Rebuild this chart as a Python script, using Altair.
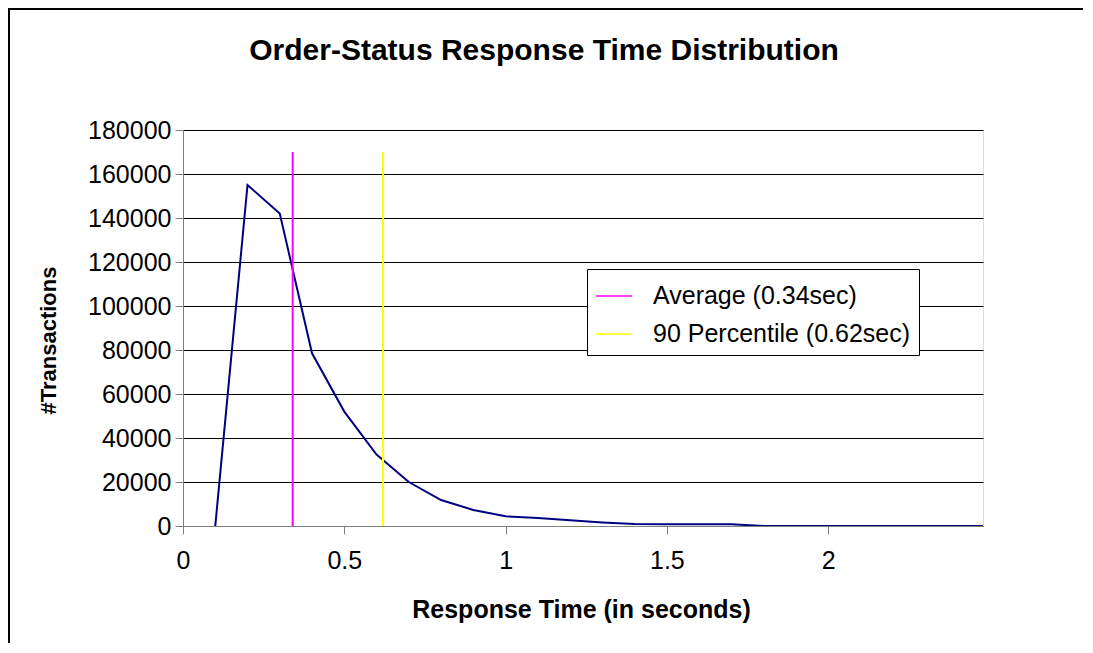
import altair as alt
import pandas as pd

# ---- data ----
times = [0.1, 0.2, 0.3, 0.4, 0.5, 0.6, 0.7, 0.8, 0.9, 1.0,
         1.1, 1.2, 1.3, 1.4, 1.5, 1.6, 1.7, 1.8, 1.9, 2.0,
         2.1, 2.2, 2.3, 2.4, 2.5]
counts = [0, 155000, 142000, 78500, 52000, 32500, 20000, 11800, 7300, 4400,
          3600, 2600, 1600, 900, 850, 800, 800, 0, 0, 0,
          0, 0, 0, 0, 0]
marker_x = [0.34, 0.62]
marker_top = [170000, 170000]
marker_base = [0, 0]
marker_labels = ["Average (0.34sec)", "90 Percentile (0.62sec)"]
marker_colors = ["#FF00FF", "#FFFF00"]
x_ticks = [0, 0.5, 1, 1.5, 2]
y_ticks = [0, 20000, 40000, 60000, 80000, 100000, 120000, 140000, 160000, 180000]
chart_title = ["Order-Status Response Time Distribution"]

FONT = "Liberation Sans"

df = pd.DataFrame({"t": times, "n": counts})
markers = pd.DataFrame({"x": marker_x, "y0": marker_base, "y1": marker_top,
                        "label": marker_labels})

xscale = alt.Scale(domain=[0, 2.48], nice=False, zero=False)
yscale = alt.Scale(domain=[0, 180000], nice=False)

W, H = 800, 396
PAD_L, PAD_T, PAD_R, PAD_B = 175, 122, 102, 119

line = alt.Chart(df).mark_line(color="#000080", strokeWidth=2, clip=True).encode(
    x=alt.X("t:Q", scale=xscale,
            axis=alt.Axis(title="Response Time (in seconds)", values=x_ticks,
                          format="~g",
                          grid=False, domainColor="#808080", tickColor="#808080",
                          tickSize=8, labelPadding=14, labelFontSize=25,
                          labelFont=FONT, labelColor="black",
                          titleFont=FONT, titleFontSize=25, titleFontWeight="bold",
                          titleColor="black", titleX=398, titleY=83,
                          titleBaseline="middle", titleAlign="center",
                          labelFlush=False)),
    y=alt.Y("n:Q", scale=yscale,
            axis=alt.Axis(title="#Transactions", values=y_ticks, format="d",
                          grid=True, gridColor="black", gridWidth=1, gridOpacity=1,
                          domainColor="#808080", tickColor="#808080", tickSize=8,
                          labelPadding=4, labelFontSize=25, labelFont=FONT,
                          labelColor="black",
                          titleFont=FONT, titleFontSize=22, titleFontWeight="bold",
                          titleColor="black", titleX=-135, titleY=210,
                          titleBaseline="middle", titleAlign="center",
                          labelFlush=False)),
)

rules = alt.Chart(markers).mark_rule(strokeWidth=2).encode(
    x=alt.X("x:Q", scale=xscale),
    y=alt.Y("y0:Q", scale=yscale),
    y2="y1:Q",
    color=alt.Color("label:N",
                    scale=alt.Scale(domain=marker_labels, range=marker_colors),
                    legend=alt.Legend(title=None, orient="none", legendX=404,
                                      legendY=139, fillColor="white",
                                      strokeColor="black", padding=8,
                                      symbolType="stroke", symbolSize=1296,
                                      symbolStrokeWidth=1.5, labelFontSize=25,
                                      labelFont=FONT, labelColor="black",
                                      labelLimit=500,
                                      rowPadding=6, labelOffset=20)),
)

title_text = alt.Chart(pd.DataFrame({"title": chart_title})).mark_text(
    font=FONT, fontSize=30, fontWeight="bold", color="black",
    align="center", baseline="alphabetic"
).encode(text="title:N", x=alt.value(361), y=alt.value(-70))

# chart-area frame (left and top edges only, as in the reference)
frame_src = pd.DataFrame({"k": [0]})
left_edge = alt.Chart(frame_src).mark_rule(
    color="black", strokeWidth=2
).encode(x=alt.value(-PAD_L + 1), y=alt.value(-PAD_T),
         y2=alt.value(H + PAD_B - 2))
top_edge = alt.Chart(frame_src).mark_rule(
    color="black", strokeWidth=2
).encode(x=alt.value(-PAD_L), x2=alt.value(W + PAD_R - 2),
         y=alt.value(-PAD_T + 1))

chart = alt.layer(line, rules, title_text, left_edge, top_edge).properties(
    width=W, height=H,
    autosize=alt.AutoSizeParams(type="none"),
    padding={"left": PAD_L, "top": PAD_T, "right": PAD_R, "bottom": PAD_B},
).configure_view(fill="#C0C0C0", stroke="#808080", strokeWidth=1
).configure(background="white")

chart.save("out.html", embed_options={"renderer": "svg", "actions": False})
